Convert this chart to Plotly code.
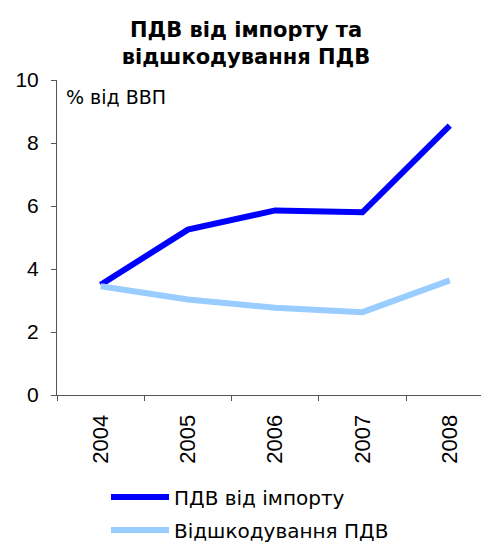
import plotly.graph_objects as go

years = ["2004", "2005", "2006", "2007", "2008"]
vat_import = [3.5, 5.25, 5.86, 5.8, 8.55]
vat_refund = [3.45, 3.03, 2.77, 2.63, 3.64]
series_names = ["ПДВ від імпорту", "Відшкодування ПДВ"]
colors = ["#0000FF", "#99CCFF"]

fig = go.Figure()
for name, vals, col in zip(series_names, [vat_import, vat_refund], colors):
    fig.add_trace(go.Scatter(x=years, y=vals, mode="lines", name=name,
                             line=dict(color=col, width=6), showlegend=False))

OFF = 8  # page body margin
W, H = 489 - OFF, 543 - OFF
ml, mr, mt, mb = 57 - OFF, 0, 80 - OFF, 543 - 395
PW, PH = W - ml - mr, H - mt - mb


def px(xv):
    return (xv - OFF - ml) / PW


def py(yv):
    return (H - mb - (yv - OFF)) / PH


leg_y = [497, 530]
shapes = []
annotations = []
for name, col, yy in zip(series_names, colors, leg_y):
    shapes.append(dict(type="line", xref="paper", yref="paper",
                       x0=px(111), x1=px(169), y0=py(yy), y1=py(yy),
                       line=dict(color=col, width=6)))
    annotations.append(dict(text=name, xref="paper", yref="paper",
                            x=px(172), y=py(yy + 1),
                            xanchor="left", yanchor="middle", showarrow=False,
                            font=dict(family="DejaVu Sans", size=20, color="#000")))

annotations.append(dict(text="% від ВВП", xref="paper", yref="paper",
                        x=px(64), y=py(97),
                        xanchor="left", yanchor="middle", showarrow=False,
                        font=dict(family="DejaVu Sans", size=19, color="#000")))

fig.update_layout(
    width=W, height=H,
    margin=dict(l=ml, r=mr, t=mt, b=mb),
    paper_bgcolor="white", plot_bgcolor="white",
    title=dict(text="<b>ПДВ від імпорту та<br>відшкодування ПДВ</b>",
               x=(246 - OFF) / W, xanchor="center", y=1 - (37 - OFF) / H, yanchor="middle",
               font=dict(family="DejaVu Sans", size=21, color="#000")),
    shapes=shapes,
    annotations=annotations,
    xaxis=dict(type="category", range=[-0.5, 4.45], tickson="boundaries",
               showline=True, linecolor="#555", linewidth=1,
               ticks="outside", ticklen=5, tickcolor="#555",
               tickangle=-90, showgrid=False, zeroline=False,
               ticklabelstandoff=10,
               tickfont=dict(family="Liberation Sans", size=22, color="#000")),
    yaxis=dict(range=[0, 10], dtick=2, showline=True, linecolor="#555", linewidth=1,
               ticks="outside", ticklen=5, tickcolor="#555",
               showgrid=False, zeroline=False,
               ticklabelstandoff=8,
               tickfont=dict(family="Liberation Sans", size=21, color="#000")),
)

fig.write_html("out.html")
